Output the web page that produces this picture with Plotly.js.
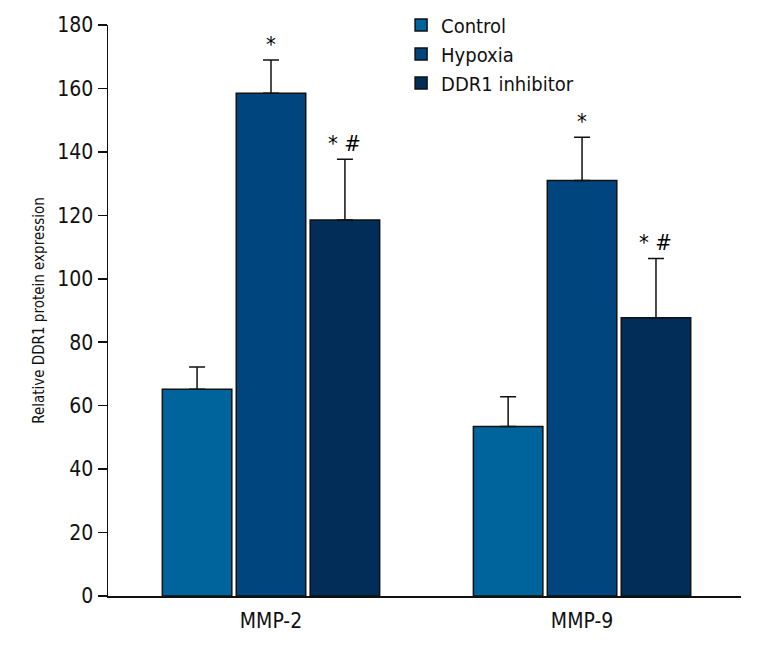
<!DOCTYPE html>
<html>
<head>
<meta charset="utf-8">
<script src="https://cdn.plot.ly/plotly-3.0.1.min.js"></script>
<style>html,body{margin:0;padding:0;background:#fff;}</style>
</head>
<body>
<div id="chart" style="width:768px;height:648px;"></div>
<script>
const categories = ["MMP-2", "MMP-9"];
const seriesNames = ["Control", "Hypoxia", "DDR1 inhibitor"];
const controlValues = [65.2, 53.4];
const controlErrors = [7.0, 9.4];
const hypoxiaValues = [158.5, 131.0];
const hypoxiaErrors = [10.5, 13.6];
const inhibitorValues = [118.5, 87.7];
const inhibitorErrors = [19.2, 18.7];
const hypoxiaMarks = ["*", "*"];
const inhibitorMarks = ["* #", "* #"];
const yTicks = [0, 20, 40, 60, 80, 100, 120, 140, 160, 180];

const FONT = '"Liberation Sans Narrow", "DejaVu Sans Condensed", "Liberation Sans", sans-serif';
const colors = ["#00649c", "#01457f", "#012d58"];
const BARGAP = 0.287;

const values = [controlValues, hypoxiaValues, inhibitorValues];
const errors = [controlErrors, hypoxiaErrors, inhibitorErrors];

const traces = seriesNames.map((name, i) => ({
  type: "bar",
  name: name,
  x: categories,
  y: values[i],
  marker: {color: colors[i], line: {color: "#111", width: 1.5}},
  error_y: {
    type: "data", symmetric: false,
    array: errors[i],
    arrayminus: errors[i].map(() => 0),
    color: "#111", thickness: 1.5, width: 8
  }
}));

const annotations = [];
const marks = [null, hypoxiaMarks, inhibitorMarks];
marks.forEach((m, j) => {
  if (!m) return;
  categories.forEach((c, k) => {
    annotations.push({
      x: k + (j - 1) * (1 - BARGAP) / 3,
      y: values[j][k] + errors[j][k],
      xref: "x", yref: "y",
      text: m[k], showarrow: false,
      yanchor: "bottom", yshift: 1,
      font: {family: FONT, size: 22, color: "#000000"}
    });
  });
});

const layout = {
  width: 768, height: 648,
  margin: {l: 108, r: 27, t: 25, b: 52, autoexpand: false},
  paper_bgcolor: "#fff", plot_bgcolor: "#fff",
  barmode: "group", bargap: BARGAP, bargroupgap: 0.06,
  font: {family: FONT, color: "#111"},
  showlegend: true,
  legend: {
    x: 0.463, y: 1.034,
    xanchor: "left", yanchor: "top",
    font: {family: FONT, size: 20, color: "#111"},
    bgcolor: "rgba(0,0,0,0)", tracegroupgap: 0
  },
  xaxis: {
    type: "category", range: [-0.524, 1.511],
    showline: true, linecolor: "#111", linewidth: 1.5,
    ticks: "", showgrid: false, zeroline: false,
    ticklabelstandoff: 5,
    tickfont: {family: FONT, size: 21, color: "#111"}
  },
  yaxis: {
    range: [0, 180], tickvals: yTicks,
    showline: true, linecolor: "#111", linewidth: 1.5,
    ticks: "outside", ticklen: 9, tickwidth: 1.5, tickcolor: "#111",
    showgrid: false, zeroline: false,
    tickfont: {family: FONT, size: 21, color: "#111"},
    title: {text: "Relative DDR1 protein expression", font: {family: FONT, size: 15, color: "#111"}, standoff: 9}
  },
  annotations: annotations
};

Plotly.newPlot("chart", traces, layout, {displayModeBar: false, staticPlot: true});
</script>
</body>
</html>
